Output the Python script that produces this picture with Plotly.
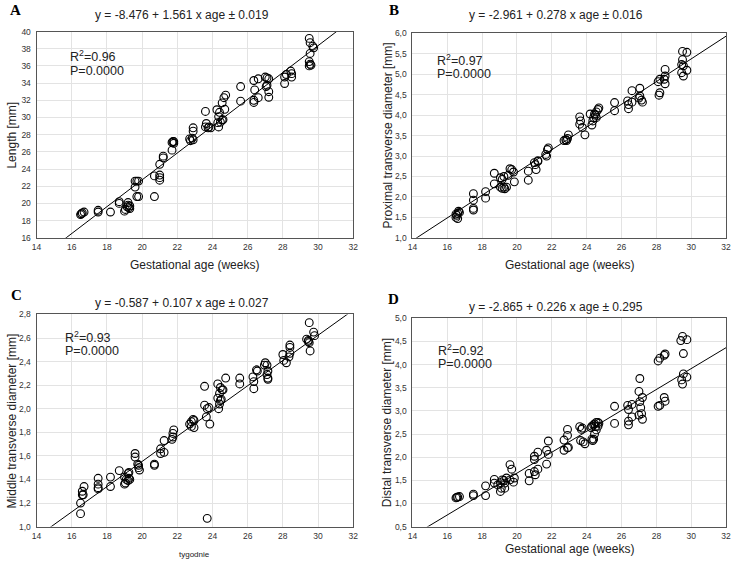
import plotly.graph_objects as go

# ---------------- data ----------------
age_A = [16.5,16.55,16.6,16.7,17.5,17.5,18.2,18.7,18.7,
         19.0,19.05,19.15,19.2,19.2,19.25,19.3,19.3,
         19.6,19.6,19.7,19.8,19.7,19.8,20.7,20.7,
         21.0,21.0,21.0,21.0,21.2,21.2,
         21.7,21.75,21.8,21.8,21.7,
         22.7,22.85,22.9,22.9,22.9,22.75,
         23.6,23.65,23.6,23.75,23.8,23.9,
         24.25,24.4,24.35,24.3,24.35,24.45,24.55,24.6,24.7,24.55,24.65,24.75,
         25.6,25.6,
         26.35,26.6,27.0,27.1,27.2,26.4,26.35,26.35,26.6,27.05,27.1,27.2,27.2,
         28.1,28.2,28.45,28.5,28.5,28.1,
         29.5,29.55,29.7,29.75,29.55,29.5,29.55,29.6,29.5]
length_A = [18.7,18.8,18.9,19.0,19.0,19.2,19.0,20.2,20.0,
            19.1,19.3,19.6,19.8,20.1,19.5,19.7,19.4,
            21.9,22.6,22.6,22.6,20.8,20.8,23.2,20.8,
            24.55,23.3,23.0,22.7,25.5,25.3,
            26.2,27.2,27.2,27.0,27.1,
            27.5,27.6,27.4,28.8,28.4,27.3,
            30.7,29.3,28.9,28.8,28.9,28.8,
            30.9,30.6,30.1,29.4,28.9,29.45,29.7,29.75,30.95,31.7,32.3,32.6,
            33.6,31.9,
            34.3,34.5,34.7,34.6,34.5,33.2,32.0,31.75,32.3,33.6,33.75,33.0,32.35,
            34.7,35.0,35.4,35.1,34.7,33.95,
            39.2,38.7,38.3,38.1,37.45,36.5,36.2,36.1,36.0]

age_B = [16.5,16.55,16.6,16.65,16.7,16.6,16.5,
         17.5,17.5,17.5,17.5,18.2,18.2,18.7,18.7,
         19.05,19.15,19.05,19.15,19.25,19.3,19.4,19.25,19.5,19.6,19.7,19.8,19.85,
         20.65,20.65,21.0,21.05,21.1,21.2,21.2,
         21.65,21.75,21.8,21.7,
         22.7,22.8,22.9,22.95,22.85,
         23.6,23.65,23.6,23.75,23.9,
         24.3,24.35,24.4,24.45,24.55,24.65,24.7,24.5,24.55,24.2,
         25.6,25.6,
         26.35,26.4,26.4,26.6,26.6,27.05,27.05,27.15,27.2,27.0,
         28.1,28.2,28.15,28.2,28.5,28.5,28.5,28.45,
         29.5,29.75,29.5,29.45,29.55,29.45,29.55,29.75]
prox_B = [1.5,1.55,1.6,1.65,1.62,1.47,1.58,
          2.08,1.92,1.72,1.68,2.13,1.97,2.58,2.32,
          2.47,2.43,2.24,2.21,2.24,2.2,2.24,2.5,2.53,2.69,2.67,2.61,2.37,
          2.63,2.41,2.84,2.79,2.67,2.89,2.87,
          3.04,3.16,3.2,3.0,
          3.38,3.4,3.43,3.52,3.38,
          3.96,3.86,3.78,3.7,3.52,
          3.76,3.86,3.94,4.03,4.08,4.14,4.18,4.0,3.94,4.03,
          4.31,4.11,
          4.35,4.26,4.16,4.32,4.6,4.66,4.47,4.37,4.32,4.42,
          4.82,4.88,4.49,4.55,5.12,4.96,4.77,4.88,
          5.56,5.54,5.36,5.24,5.21,5.04,4.96,5.1]

age_C = [16.5,16.5,16.6,16.6,16.7,16.65,
         17.5,17.5,17.5,17.5,18.2,18.2,18.7,
         19.0,19.1,19.2,19.25,19.3,19.2,19.25,19.0,19.05,
         19.6,19.6,19.8,19.8,19.85,19.75,
         20.7,20.7,21.05,21.05,21.25,21.25,
         21.7,21.75,21.8,21.75,
         22.7,22.8,22.9,22.95,22.95,22.8,
         23.55,23.55,23.65,23.85,23.8,23.7,
         24.3,24.4,24.45,24.55,24.6,24.75,24.3,24.35,24.4,24.5,24.45,
         25.55,25.55,
         26.3,26.35,26.35,26.5,26.55,26.95,27.0,27.1,27.15,27.1,27.15,27.15,
         28.0,28.05,28.2,28.4,28.4,28.4,28.35,
         29.5,29.35,29.45,29.5,29.55,29.75,29.8,29.45,
         23.7]
mid_C = [1.2,1.11,1.3,1.27,1.34,1.27,
         1.41,1.36,1.33,1.32,1.42,1.34,1.475,
         1.42,1.4,1.45,1.41,1.4,1.39,1.46,1.36,1.37,
         1.62,1.59,1.52,1.5,1.48,1.53,
         1.53,1.52,1.66,1.62,1.73,1.63,
         1.74,1.76,1.82,1.79,
         1.87,1.89,1.91,1.9,1.84,1.85,
         2.19,2.03,1.93,1.87,2.01,2.0,
         2.21,2.13,2.18,2.16,2.16,2.26,2.09,2.0,2.04,2.08,2.07,
         2.26,2.21,
         2.27,2.23,2.17,2.33,2.32,2.37,2.39,2.37,2.32,2.29,2.26,2.25,
         2.46,2.41,2.39,2.54,2.52,2.47,2.44,
         2.73,2.59,2.57,2.56,2.49,2.65,2.62,2.58,
         1.07]

age_D = [16.5,16.55,16.6,16.7,17.5,17.5,18.2,18.2,18.7,18.7,18.9,
         19.05,19.1,19.15,19.25,19.3,19.4,19.3,19.05,
         19.6,19.7,19.85,19.8,19.6,
         20.7,20.7,21.0,21.05,21.2,21.0,21.0,21.2,
         21.7,21.7,21.8,21.8,
         22.7,22.9,22.9,22.7,22.9,22.95,
         23.6,23.65,23.75,23.8,23.9,23.7,
         24.25,24.3,24.4,24.45,24.55,24.65,24.7,24.3,24.35,24.4,24.45,24.55,24.65,24.5,
         25.6,25.6,
         26.35,26.4,26.4,26.4,26.6,26.6,27.05,27.0,27.05,27.1,27.15,27.2,27.2,27.0,
         28.1,28.2,28.45,28.5,28.1,28.2,28.45,28.5,
         29.4,29.5,29.75,29.55,29.45,29.55,29.75,29.5]
dist_D = [1.12,1.13,1.14,1.15,1.2,1.17,1.38,1.17,1.52,1.44,1.4,
          1.26,1.33,1.51,1.5,1.44,1.55,1.33,1.45,
          1.84,1.74,1.55,1.46,1.51,
          1.65,1.49,1.69,1.62,1.74,2.02,1.95,2.11,
          1.85,2.15,2.35,2.06,
          2.37,2.47,2.6,2.15,2.2,2.21,
          2.66,2.36,2.63,2.33,2.29,2.6,
          2.64,2.67,2.7,2.72,2.75,2.75,2.73,2.39,2.36,2.39,2.5,2.59,2.67,2.66,
          3.1,2.73,
          3.12,3.03,2.78,2.7,3.14,2.87,3.7,3.42,3.2,3.07,2.94,3.29,2.82,2.91,
          4.08,4.14,4.2,4.23,3.1,3.12,3.29,3.21,
          4.52,4.61,4.54,4.24,3.67,3.8,3.73,3.58]

# regression coefficients (intercept, slope) and error terms from the titles
coef_A = (-8.476, 1.561, 0.019)
coef_B = (-2.961, 0.278, 0.016)
coef_C = (-0.587, 0.107, 0.027)
coef_D = (-2.865, 0.226, 0.295)
r2_values = ["0.96", "0.97", "0.93", "0.92"]
p_values = ["0.0000", "0.0000", "0.0000", "0.0000"]
panel_letters = ["A", "B", "C", "D"]
y_titles = ["Length [mm]", "Proximal transverse diameter [mm]",
            "Middle transverse diameter [mm]", "Distal transverse diameter [mm]"]
x_titles = ["Gestational age (weeks)", "Gestational age (weeks)",
            "tygodnie", "Gestational age (weeks)"]
x_range = [14, 32]
y_ranges = [[16, 40], [1.0, 6.0], [1.0, 2.8], [0.5, 5.0]]
y_dticks = [2, 0.5, 0.2, 0.5]

# ---------------- layout geometry (pixels) ----------------
W, H = 738, 565
boxes = [  # left, right, top, bottom in px
    (32, 353, 27, 237),
    (413, 731, 29, 237),
    (32, 353, 315, 531),
    (413, 731, 319, 531),
]
x_title_offsets = [28, 28, 28, 23]
stat_pos = [  # (left x, R2 line centre y, P line centre y) in px
    (64, 52, 67),
    (436, 56, 70),
    (59, 338, 352),
    (437, 351, 365),
]
title_y = [10, 10, 303, 307]
letter_pos = [(11, 5), (394, 5), (12, 295), (394, 299)]

FONT = "Liberation Sans, Arial, Helvetica, sans-serif"
fig = go.Figure()
datasets = [(age_A, length_A, coef_A), (age_B, prox_B, coef_B),
            (age_C, mid_C, coef_C), (age_D, dist_D, coef_D)]


def px_x(v):
    return v / W


def px_y(v):
    return 1 - v / H


annotations = []
for i, ((xs, ys, coef), box) in enumerate(zip(datasets, boxes)):
    n = "" if i == 0 else str(i + 1)
    xa, ya = "x" + n, "y" + n
    a, b, err = coef
    fig.add_trace(go.Scatter(
        x=xs, y=ys, mode="markers", xaxis=xa, yaxis=ya, showlegend=False,
        marker=dict(symbol="circle-open", size=7.8, color="black",
                    line=dict(width=1.1, color="black")),
        cliponaxis=False, hoverinfo="skip"))
    lx = list(x_range)
    fig.add_trace(go.Scatter(
        x=lx, y=[a + b * v for v in lx], mode="lines", xaxis=xa, yaxis=ya,
        showlegend=False, line=dict(color="black", width=1), hoverinfo="skip"))

    l, r, t, btm = box
    axis_common = dict(showline=True, mirror=True, linecolor="#555", linewidth=1,
                       showgrid=True, gridcolor="#e3e3e3", gridwidth=1,
                       zeroline=False, ticks="",
                       tickfont=dict(size=8.5, color="#333", family=FONT))
    fig.layout["xaxis" + n] = dict(domain=[l / W, r / W], range=x_range, dtick=2, tick0=14,
                                   anchor=ya, ticklabelstandoff=1, **axis_common)
    fig.layout["yaxis" + n] = dict(domain=[1 - btm / H, 1 - t / H], range=y_ranges[i],
                                   dtick=y_dticks[i], tick0=y_ranges[i][0], anchor=xa,
                                   ticklabelstandoff=3,
                                   tickformat=("d" if i == 0 else ".1f"), **axis_common)

    cx = (l + r) / 2
    title = f"y = {a:.3f} + {b:.3f} x age ± {err:.3f}"
    annotations.append(dict(text=title, xref="paper", yref="paper",
                            x=px_x(cx - 13), y=px_y(title_y[i]),
                            xanchor="center", yanchor="middle", showarrow=False,
                            font=dict(size=12, color="#222", family=FONT)))
    lxp, lyp = letter_pos[i]
    annotations.append(dict(text="<b>" + panel_letters[i] + "</b>", xref="paper", yref="paper",
                            x=px_x(lxp), y=px_y(lyp),
                            xanchor="center", yanchor="middle", showarrow=False,
                            font=dict(size=15, color="black",
                                      family="Liberation Serif, Times New Roman, serif")))
    sx, ry, py = stat_pos[i]
    annotations.append(dict(text="R<sup>2</sup>=" + r2_values[i],
                            xref="paper", yref="paper", x=px_x(sx), y=px_y(ry),
                            xanchor="left", yanchor="middle", showarrow=False,
                            font=dict(size=12.5, color="#222", family=FONT)))
    annotations.append(dict(text="P=" + p_values[i],
                            xref="paper", yref="paper", x=px_x(sx), y=px_y(py),
                            xanchor="left", yanchor="middle", showarrow=False,
                            font=dict(size=12.5, color="#222", family=FONT)))
    is_small = (i == 2)
    annotations.append(dict(text=x_titles[i], xref="paper", yref="paper",
                            x=px_x(cx), y=px_y(btm + x_title_offsets[i]),
                            xanchor="center", yanchor="middle", showarrow=False,
                            font=dict(size=(8 if is_small else 12), color="#222", family=FONT)))
    annotations.append(dict(text=y_titles[i], xref="paper", yref="paper",
                            x=px_x(l - 25), y=px_y((t + btm) / 2),
                            xanchor="center", yanchor="middle", textangle=-90, showarrow=False,
                            font=dict(size=12, color="#222", family=FONT)))

fig.update_layout(width=W, height=H, margin=dict(l=0, r=0, t=0, b=0),
                  paper_bgcolor="white", plot_bgcolor="white",
                  separators=",.", annotations=annotations, hovermode=False,
                  font=dict(family=FONT, color="#222"))
fig.write_html("out.html", config={"displayModeBar": False},
               post_script="document.body.style.margin='0';document.body.style.padding='0';")
